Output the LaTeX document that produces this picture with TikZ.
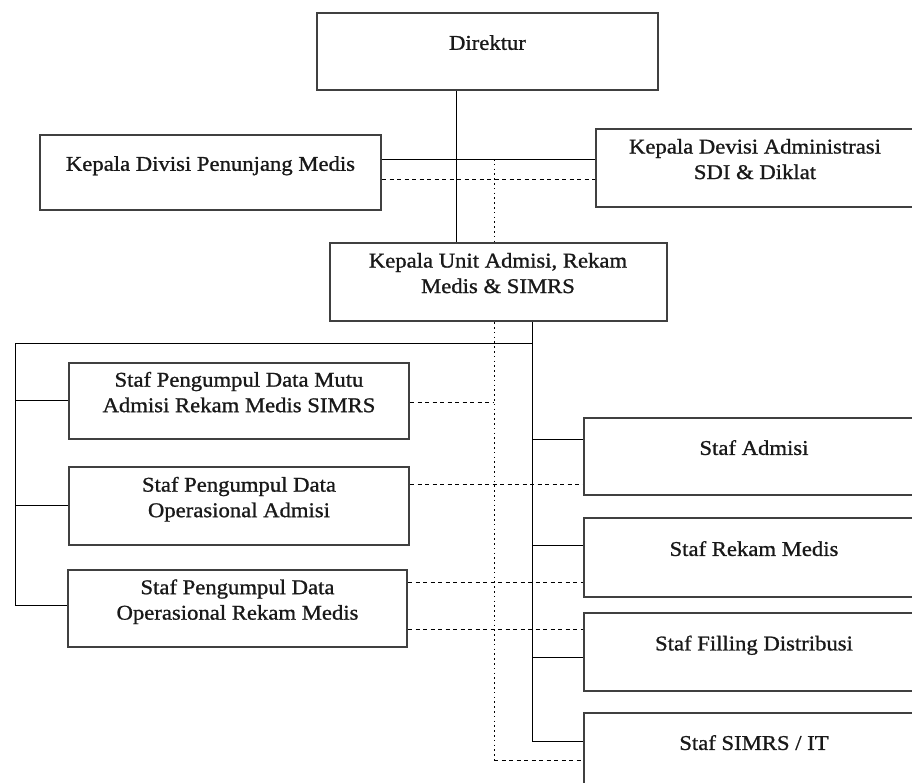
\documentclass[tikz,border=0pt]{standalone}
\usepackage{fontspec}
\setmainfont[FakeStretch=1.08,FakeBold=1]{Liberation Serif}
\usetikzlibrary{backgrounds}
\newcommand{\lift}[1]{\rule[-#1]{0pt}{#1}}
\begin{document}
\begin{tikzpicture}[x=1pt, y=-1pt, line width=1.6pt,
    every node/.style={font=\fontsize{21}{25.5}\selectfont, align=center, text=black!90},
    box/.style={draw=black!75, fill=white, line width=2pt, rectangle, inner sep=0pt,
      execute at end node={\lift{18pt}}},
    dashline/.style={dash pattern=on 4pt off 3.5pt},
    dotline/.style={dash pattern=on 1.6pt off 3.2pt}]
            \clip (0,0) rectangle (912,782);
            % boxes
            \node [box, minimum width=341pt, minimum height=77pt] (Dir) at (487.5,51.5) {Direktur};
            \node [box, minimum width=341pt, minimum height=75pt] (Penunjang) at (210.5,172.5) {Kepala Divisi Penunjang Medis};
            \node [box, minimum width=318pt, minimum height=78pt] (Devisi) at (755,168) {Kepala Devisi Administrasi\\SDI \& Diklat};
            \node [box, minimum width=337pt, minimum height=78pt, execute at end node={\lift{13pt}}] (Unit) at (498,282) {Kepala Unit Admisi, Rekam\\Medis \& SIMRS};
            \node [box, minimum width=340pt, minimum height=76pt] (Mutu) at (239,401) {Staf Pengumpul Data Mutu\\Admisi Rekam Medis SIMRS};
            \node [box, minimum width=340pt, minimum height=78pt] (OpAdm) at (239,506) {Staf Pengumpul Data\\Operasional Admisi};
            \node [box, minimum width=339pt, minimum height=77pt] (OpRM) at (237.5,608.5) {Staf Pengumpul Data\\Operasional Rekam Medis};
            \node [box, minimum width=340pt, minimum height=77pt] (Admisi) at (754,456.5) {Staf Admisi};
            \node [box, minimum width=340pt, minimum height=79pt] (RM) at (754,557.5) {Staf Rekam Medis};
            \node [box, minimum width=340pt, minimum height=78pt] (Filling) at (754,652) {Staf Filling Distribusi};
            \node [box, minimum width=340pt, minimum height=77pt] (SIMRS) at (754,751.5) {Staf SIMRS / IT};
            % bus points
            \coordinate (trunk) at (456,159);
            \coordinate (dashtop) at (494,179);
            \coordinate (dotbus) at (494,760);
            \coordinate (unitbus) at (532,343);
            \coordinate (unitend) at (532,741);
            \coordinate (leftbus) at (15,343);
            \coordinate (leftend) at (15,605);
            \begin{scope}[on background layer, draw=black!80]
            \fill[white] (0,0) rectangle (912,782);
            % solid lines
            \draw (Dir.south -| trunk) -- (Unit.north -| trunk);
            \draw (Penunjang.east |- trunk) -- (Devisi.west |- trunk);
            \draw (Unit.south -| unitbus) -- (unitend) -- (SIMRS.west |- unitend);
            \draw (unitbus) -- (leftbus) -- (leftend) -- (OpRM.west |- leftend);
            \draw (leftbus |- 0,400) -- (Mutu.west |- 0,400);
            \draw (leftbus |- 0,505) -- (OpAdm.west |- 0,505);
            \draw (unitbus |- 0,439) -- (Admisi.west |- 0,439);
            \draw (unitbus |- 0,545) -- (RM.west |- 0,545);
            \draw (unitbus |- 0,657) -- (Filling.west |- 0,657);
            % dashed lines
            \draw[dashline] (Penunjang.east |- dashtop) -- (Devisi.west |- dashtop);
            \draw[dotline] (dashtop |- trunk) -- (dotbus);
            \draw[dashline] (dotbus) -- (SIMRS.west |- dotbus);
            \draw[dashline] (Mutu.east |- 0,402) -- (dotbus |- 0,402);
            \draw[dashline] (OpAdm.east |- 0,484) -- (Admisi.west |- 0,484);
            \draw[dashline] (OpRM.east |- 0,582) -- (RM.west |- 0,582);
            \draw[dashline] (OpRM.east |- 0,629) -- (Filling.west |- 0,629);
            \end{scope}
        \end{tikzpicture}
\end{document}
